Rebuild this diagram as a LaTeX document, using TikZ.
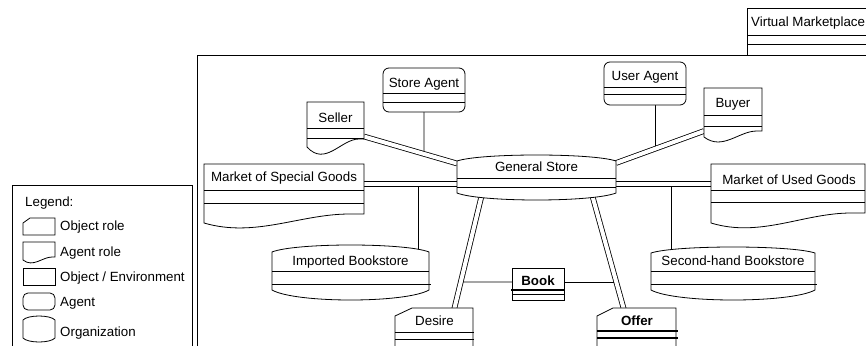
\documentclass[tikz,border=0pt]{standalone}
\usepackage{fontspec}
\setmainfont{Liberation Sans}
\usetikzlibrary{calc}
\newcommand{\OrgShape}[6]{% x1, ytc, x2, ybc, bulge top, bulge bottom
  \pgfmathsetmacro{\oa}{0.15*(#3-#1)}
  \draw[shp] (#1,#2) .. controls ({#1+\oa},{#2-1.333*#5}) and ({#3-\oa},{#2-1.333*#5}) .. (#3,#2) -- (#3,#4) .. controls ({#3-\oa},{#4+1.333*#6}) and ({#1+\oa},{#4+1.333*#6}) .. (#1,#4) -- cycle;
}
\newcommand{\AgRole}[6]{% x1, ytop, x2, yleft, yright, k
  \pgfmathsetmacro{\aw}{#3-#1}
  \draw[shp] (#1,#2) -- (#3,#2) -- (#3,#5) -- ({#3-0.09*\aw},#5) .. controls ({#1+0.6*\aw},#5) and ({#1+0.32*\aw},{#4+#6}) .. (#1,#4) -- cycle;
}
\newcommand{\ObjRole}[6]{% x1, y1, x2, y2, cutx, cuty
  \draw[shp] (#1,{#2+#6}) -- ({#1+#5},#2) -- (#3,#2) -- (#3,#4) -- (#1,#4) -- cycle;
}
\begin{document}
\begin{tikzpicture}[x=1pt,y=-1pt,
  shp/.style={draw=black, line width=0.8pt, fill=white, line join=miter},
  ln/.style={draw=black, line width=0.8pt},
  thk/.style={draw=black, line width=1.6pt},
  dbl/.style={draw=black, line width=0.8pt, double=white, double distance=4pt},
  lbl/.style={inner sep=0pt, anchor=base, font=\fontsize{13.33}{16}\selectfont},
  lbll/.style={lbl, anchor=base west},
]
\useasboundingbox (0,0) rectangle (866,345);
\clip (0,0) rectangle (866,345);
\fill[white] (0,0) rectangle (866,345);

% frames
\draw[ln] (197,400) -- (197,55) -- (900,55);
\draw[ln] (12,400) -- (12,185) -- (192,185) -- (192,400);
\draw[ln] (747,55) -- (747,8) -- (900,8);
\draw[ln] (747,35) -- (900,35);
\draw[ln] (747,44) -- (900,44);
\node[lbll] (vm-t) at (751,26.5) {Virtual Marketplace};

% connector end points
\coordinate (sel-e) at (364,136.5);
\coordinate (gs-wn) at (457,163.5);
\coordinate (gs-en) at (616,163);
\coordinate (buy-w) at (704,131);
\coordinate (msg-e) at (364,184.2);
\coordinate (gs-w) at (457,184.2);
\coordinate (gs-e) at (616,184.2);
\coordinate (mug-w) at (711,184.2);
\coordinate (gs-sw) at (482,194);
\coordinate (des-n) at (453.5,312);
\coordinate (gs-se) at (592.4,196);
\coordinate (off-n) at (624.6,312);
\coordinate (sa-s) at (424,112);
\coordinate (sa-d) at (424,200);
\coordinate (ua-s) at (655,105);
\coordinate (ua-d) at (655,200);
\coordinate (book-w) at (512,282);
\coordinate (book-e) at (564,282);
\coordinate (ib-j) at (418,184.2);
\coordinate (ib-n) at (418,253);
\coordinate (sb-j) at (671,184.2);
\coordinate (sb-n) at (671,255);

% single connectors
\draw[ln] (sa-s) -- (intersection of sa-s--sa-d and sel-e--gs-wn);
\draw[ln] (ua-s) -- (intersection of ua-s--ua-d and gs-en--buy-w);
\draw[ln] (ib-j) -- (ib-n);
\draw[ln] (sb-j) -- (sb-n);
\draw[ln] (book-w) -- (intersection of book-w--book-e and gs-sw--des-n);
\draw[ln] (book-e) -- (intersection of book-w--book-e and gs-se--off-n);

% double connectors
\draw[dbl] (sel-e) -- (gs-wn);
\draw[dbl] (gs-en) -- (buy-w);
\draw[dbl] (msg-e) -- (gs-w);
\draw[dbl] (gs-e) -- (mug-w);
\draw[dbl] (gs-sw) -- (des-n);
\draw[dbl] (gs-se) -- (off-n);

% General Store
\OrgShape{457}{161}{616}{193}{6}{7}
\draw[ln] (457,178) -- (616,178);
\draw[ln] (457,187) -- (616,187);
\node[lbl] (gs-t) at (536.5,171.5) {General Store};

% Imported Bookstore
\OrgShape{272}{252}{429}{290}{7}{10}
\draw[ln] (272,271) -- (429,271);
\draw[ln] (272,284) -- (431,284);
\node[lbl] (ib-t) at (350.5,265.5) {Imported Bookstore};

% Second-hand Bookstore
\OrgShape{651}{253}{815}{290}{6}{10}
\draw[ln] (651,271) -- (815,271);
\draw[ln] (651,284) -- (817,284);
\node[lbl] (sb-t) at (733,265.5) {Second-hand Bookstore};

% Seller
\AgRole{307}{102}{364}{147}{139}{20}
\draw[ln] (307,128) -- (364,128);
\draw[ln] (307,138) -- (364,138);
\node[lbl] (seller-t) at (335.5,122.5) {Seller};

% Buyer
\AgRole{704}{88}{762}{137}{131}{14}
\draw[ln] (704,115) -- (762,115);
\draw[ln] (704,126) -- (762,126);
\node[lbl] (buyer-t) at (733,107.5) {Buyer};

% Market of Special Goods
\AgRole{204}{164}{364}{223}{214}{15}
\draw[ln] (204,190) -- (364,190);
\draw[ln] (204,203) -- (364,203);
\node[lbl] (msg-t) at (284,181) {Market of Special Goods};

% Market of Used Goods
\AgRole{711}{164}{865}{223}{213}{15}
\draw[ln] (711,190) -- (865,190);
\draw[ln] (711,202) -- (865,202);
\node[lbl] (mug-t) at (789,184) {Market of Used Goods};

% Store Agent
\draw[shp, rounded corners=6] (383,68) rectangle (465,112);
\draw[ln] (383,93) -- (465,93);
\draw[ln] (383,102) -- (465,102);
\node[lbl] (sa-t) at (424,87.5) {Store Agent};

% User Agent
\draw[shp, rounded corners=6] (604,62) rectangle (686,105);
\draw[ln] (604,87) -- (686,87);
\draw[ln] (604,94) -- (686,94);
\node[lbl] (ua-t) at (645,80.5) {User Agent};

% Desire
\ObjRole{395}{308}{473}{360}{17}{8}
\draw[ln] (395,332) -- (474,332);
\draw[ln] (395,339) -- (474,339);
\node[lbl] (des-t) at (434.5,325.5) {Desire};

% Offer
\ObjRole{597}{308}{676}{360}{16}{8}
\draw[thk] (597,331) -- (678,331);
\draw[thk] (597,338) -- (678,338);
\node[lbl, font=\fontsize{13.33}{16}\selectfont\bfseries] (off-t) at (637,325.5) {Offer};

% Book
\draw[shp] (512,268) rectangle (564,300);
\draw[thk] (511,290) -- (565,290);
\draw[ln] (512,294.5) -- (564,294.5);
\node[lbl, font=\fontsize{13.33}{16}\selectfont\bfseries] (book-t) at (538,285.5) {Book};

% Legend
\node[lbll] (leg-t) at (25,206.5) {Legend:};
\ObjRole{23}{218}{55}{235}{7}{5}
\node[lbll] (leg1) at (60,230.5) {Object role};
\AgRole{23}{242}{55}{260}{257}{8}
\node[lbll] (leg2) at (60,256.5) {Agent role};
\draw[shp] (23,268) rectangle (55,285);
\node[lbll] (leg3) at (60,281.5) {Object / Environment};
\draw[shp, rounded corners=5] (23,293) rectangle (55,310);
\node[lbll] (leg4) at (60,306.5) {Agent};
\OrgShape{23}{320}{55}{338}{4}{4}
\node[lbll] (leg5) at (60,336.5) {Organization};
\end{tikzpicture}
\end{document}
